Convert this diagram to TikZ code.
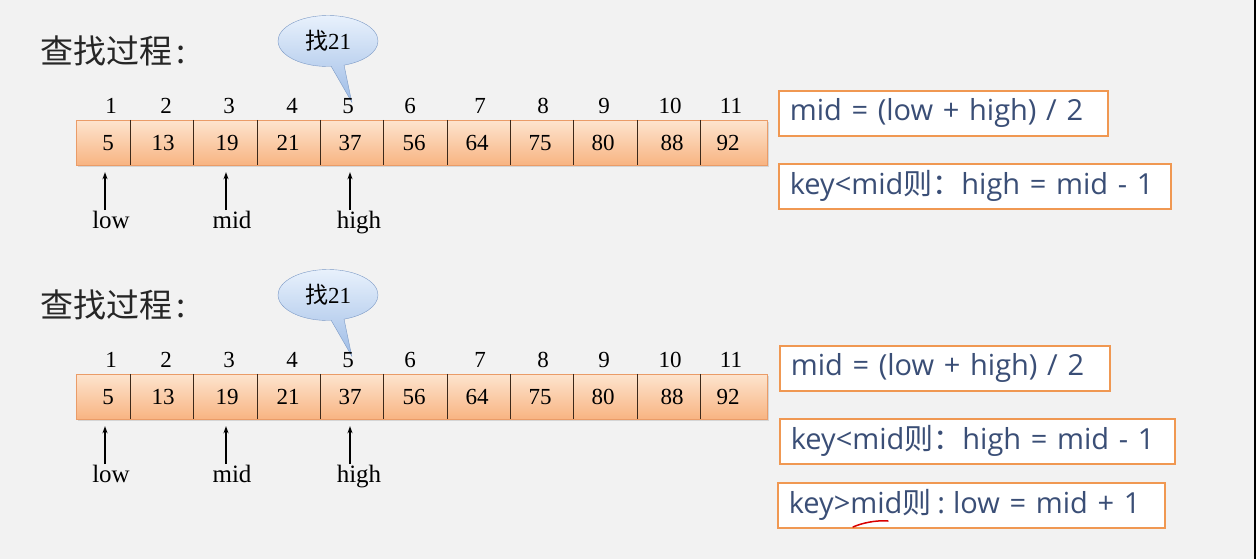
\documentclass[tikz,border=0pt]{standalone}
\usepackage{fontspec}
\setmainfont{Liberation Serif}
\newfontfamily\cjk{Noto Sans CJK SC}
\newfontfamily\rulefont{Open Sans}
\usetikzlibrary{arrows.meta,shapes.callouts,shadows}

\definecolor{bgpage}{RGB}{242,242,242}
\definecolor{celltop}{RGB}{253,228,206}
\definecolor{cellbot}{RGB}{248,180,130}
\definecolor{cellrim}{RGB}{234,156,104}
\definecolor{divline}{RGB}{60,40,25}
\definecolor{bubtop}{RGB}{232,241,252}
\definecolor{bubbot}{RGB}{158,188,230}
\definecolor{bubrim}{RGB}{124,154,198}
\definecolor{boxrim}{RGB}{240,152,82}
\definecolor{rulefg}{RGB}{58,78,118}
\definecolor{titlefg}{RGB}{38,38,38}

\tikzset{
	title/.style={anchor=west, inner sep=0pt, text=titlefg,
		font=\cjk\fontsize{33}{36}\selectfont},
	bubble/.style={ellipse callout, draw=bubrim, top color=bubtop,
		bottom color=bubbot, minimum width=100, minimum height=51,
		inner sep=0pt, font=\fontsize{23}{25}\selectfont},
	row/.style={anchor=north west, draw=cellrim, top color=celltop,
		bottom color=cellbot, minimum height=45, inner sep=0pt,
		drop shadow={shadow xshift=1.5pt, shadow yshift=-1.5pt, opacity=0.25}},
	cell/.style={minimum height=45, inner sep=0pt},
	num/.style={inner sep=0pt, font=\fontsize{23}{25}\selectfont},
	ptrlbl/.style={anchor=base, inner sep=0pt, font=\fontsize{25}{27}\selectfont},
	ptr/.style={-{Stealth[length=7pt,width=5pt]}, line width=1.1pt, shorten >=7pt},
	rulebox/.style={anchor=north west, draw=boxrim, line width=1.6pt,
		fill=white, minimum height=45, inner xsep=11pt, inner ysep=0pt,
		align=left, text=rulefg, font=\rulefont\fontsize{29}{32}\selectfont}
}

\begin{document}
\begin{tikzpicture}[x=1pt,y=-1pt]

% canvas %{{{2

	\fill[bgpage] (0,0) rectangle (1256,559);
	\useasboundingbox (0,0) rectangle (1256,559);
	\draw[line width=2pt] (1255,0) -- (1255,559);

% search steps %{{{2

	% ---- step 2 is step 1 moved down

	\foreach \s/\dy in {1/0,2/254}{
	\begin{scope}[shift={(0,\dy)}]

		\node[title] (title\s) at (40,51) {查找过程\kern4pt:};
		\node[bubble, callout relative pointer={(14,36)}] (ask\s) at (328,41)
			{{\cjk 找}21};

		% ---- array with its indices

		\node[row, minimum width=691] (arr\s) at (76,120) {};

		\foreach \l/\r/\v/\vx/\k/\kx in {76/130/5/108/1/111, 130/193/13/163/2/166,
			193/257/19/227/3/229, 257/320/21/288/4/292, 320/383/37/350/5/348,
			383/447/56/414/6/410, 447/510/64/477/7/480, 510/573/75/540/8/543,
			573/637/80/603/9/604, 637/700/88/672/10/670, 700/767/92/728/11/731}{
			\node[cell, minimum width={\r-\l}] (c\s-\k) at ({(\l+\r)/2},142.5) {};
			\node[num] (v\s-\k) at (\vx,143) {\v};
			\node[num] (i\s-\k) at (\kx,106) {\k};
			\ifnum\k<11
				\draw[divline, line width=1pt] (c\s-\k.north east) -- (c\s-\k.south east);
			\fi
		}

		% ---- low, mid, high pointers

		\foreach \p/\px/\lx/\k in {low/105/111/1, mid/226/232/3, high/350/359/5}{
			\node[ptrlbl] (\p\s) at (\lx,228) {\p};
			\coordinate (\p-tail\s) at (\px,210);
			\draw[ptr] (\p-tail\s) -- (\p-tail\s |- c\s-\k.south);
		}

	\end{scope}
	}

% rules %{{{2

	\node[rulebox, minimum width=329, text width=307] (mid1) at (778,90)
		{mid = (low + high) / 2};
	\node[rulebox, minimum width=392, text width=370] (less1) at (778,163)
		{\mbox{key<mid{\cjk 则：}high = mid - 1}};

	\node[rulebox, minimum width=330, text width=308] (mid2) at (779,345)
		{mid = (low + high) / 2};
	\node[rulebox, minimum width=395, text width=373] (less2) at (779,418)
		{\mbox{key<mid{\cjk 则：}high = mid - 1}};
	\node[rulebox, minimum width=387, text width=365] (more2) at (777,482)
		{\mbox{key>mid{\cjk 则}\kern6pt:\kern8pt low = mid + 1}};

	% ---- red pen stroke under mid

	\draw[red!85!black, line width=1.5pt, line cap=round]
		(853,527) .. controls (862,523) and (876,520) .. (888,521);

% closing %{{{2

\end{tikzpicture}
\end{document}
